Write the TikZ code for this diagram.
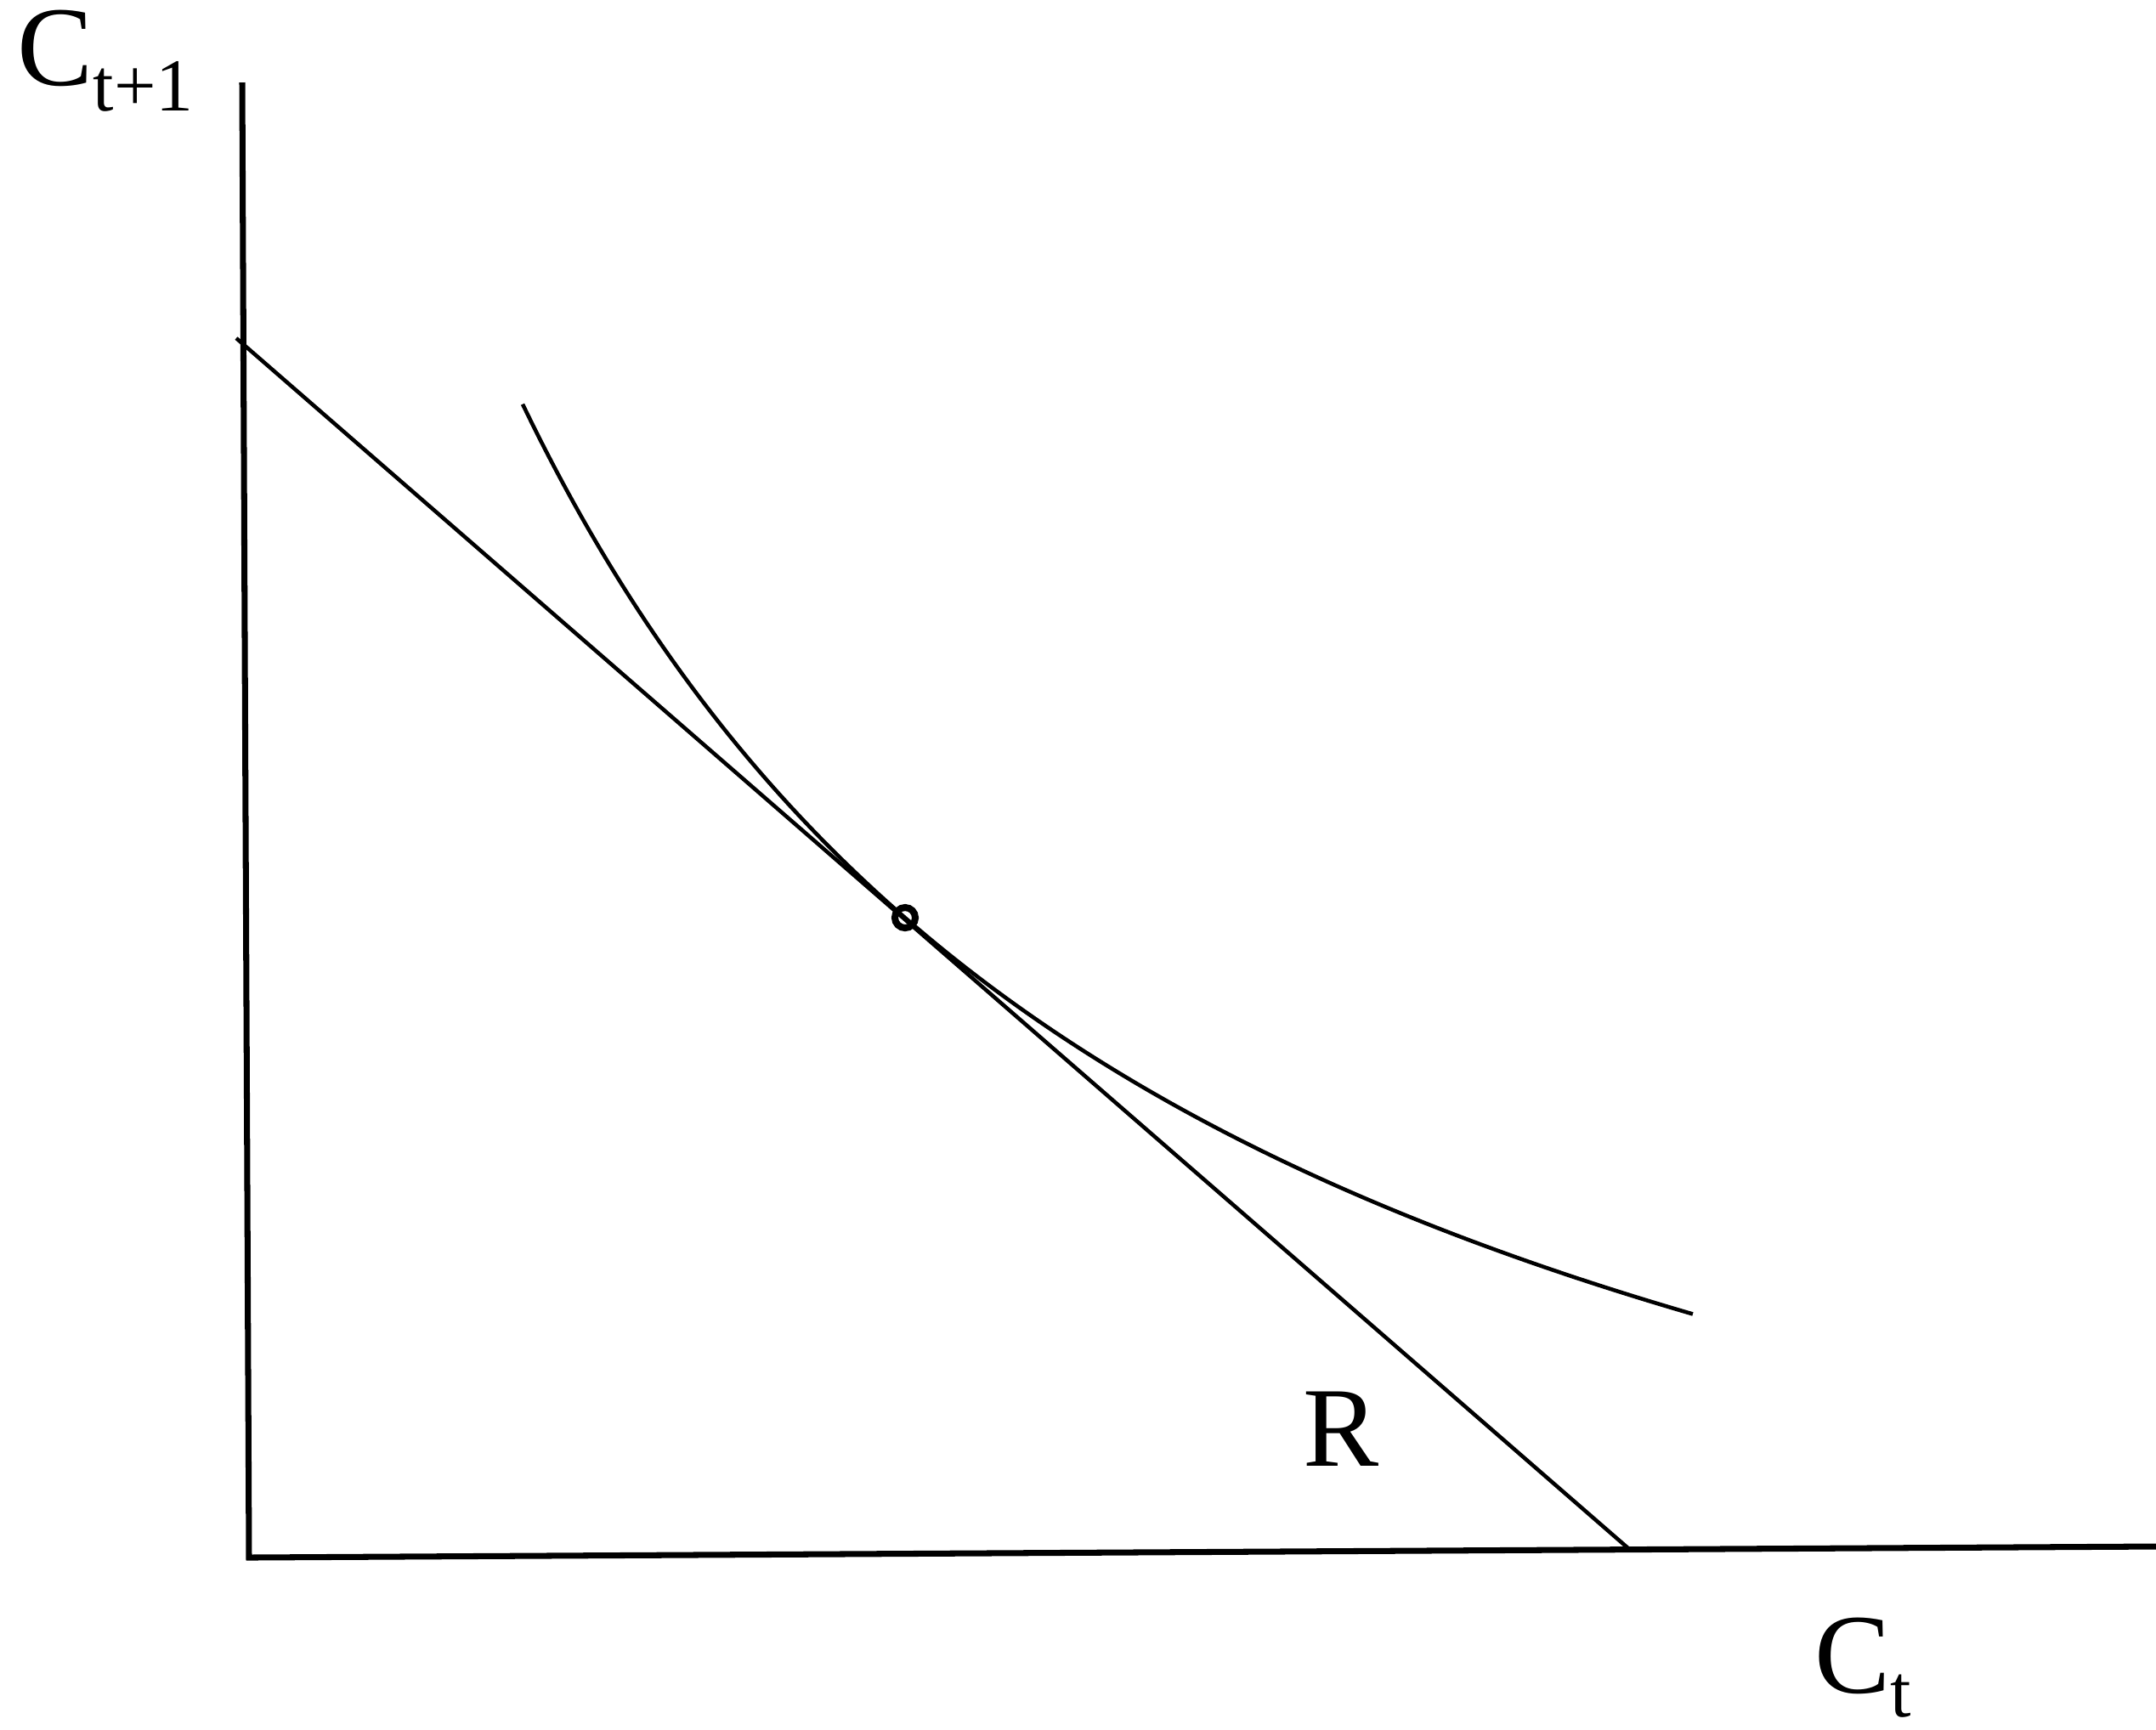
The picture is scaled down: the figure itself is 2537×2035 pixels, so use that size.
\documentclass[tikz,border=0pt]{standalone}
\usepackage{fontspec}
\setmainfont{Liberation Serif}
\begin{document}
\begin{tikzpicture}[x=0.01cm,y=-0.01cm,
  axis/.style={line width=2pt},
  thin line/.style={line width=1.3pt},
  big/.style={font=\fontsize{38}{40}\selectfont, inner sep=0pt, anchor=base west},
]
\useasboundingbox (0,0) rectangle (2537,2035);
% axes
\coordinate (ytop) at (285,97);
\coordinate (origin) at (293,1833);
\coordinate (xend) at (2537,1820);
\draw[axis] (ytop) -- (origin) -- (xend);
% budget line
\coordinate (bl1) at (278,398);
\coordinate (bl2) at (1917,1823);
\draw[thin line] (bl1) -- (bl2);
% indifference curve (hyperbola tangent to the budget line)
\draw[thin line] plot[domain=6.15:19.92, samples=120, smooth]
  ({100*\x},{100*(21.88-141.2668/(\x+2.1))});
% tangency point
\node[draw, circle, line width=2.3pt, minimum size=0.24cm, inner sep=0pt] (pt) at (1065,1080) {};
% labels
\node[big] (cy) at (20,100) {C\raisebox{-0.3cm}{\fontsize{25}{26}\selectfont t+1}};
\node[big] (cx) at (2135,1992) {C\raisebox{-0.28cm}{\fontsize{25}{26}\selectfont t}};
\node[big] (r) at (1533,1725) {R};
\end{tikzpicture}
\end{document}
